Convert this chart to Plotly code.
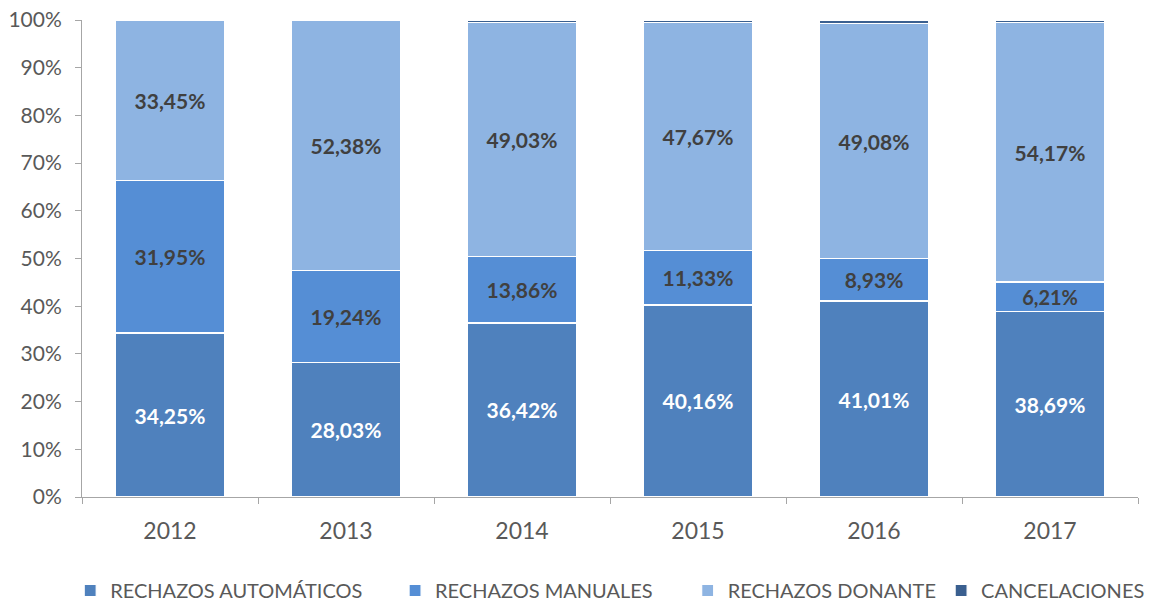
import plotly.graph_objects as go

years = ["2012", "2013", "2014", "2015", "2016", "2017"]
automaticos = [34.25, 28.03, 36.42, 40.16, 41.01, 38.69]
manuales = [31.95, 19.24, 13.86, 11.33, 8.93, 6.21]
donante = [33.45, 52.38, 49.03, 47.67, 49.08, 54.17]
cancelaciones = [0.0, 0.0, 0.5, 0.6, 0.8, 0.5]

series = [
    ("RECHAZOS AUTOMÁTICOS", automaticos, "#4F81BD", "white", True),
    ("RECHAZOS MANUALES", manuales, "#558ED5", "#404040", True),
    ("RECHAZOS DONANTE", donante, "#8EB4E2", "#404040", True),
    ("CANCELACIONES", cancelaciones, "#3A5F8F", "#404040", False),
]
legend_ids = ["legend", "legend2", "legend3", "legend4"]
legend_x = [0.054, 0.336, 0.590, 0.810]

def fmt(v):
    return f"{v:.2f}".replace(".", ",") + "%"

fig = go.Figure()
for (name, vals, color, tcolor, show), lid in zip(series, legend_ids):
    fig.add_trace(go.Bar(
        name=name, x=years, y=vals, legend=lid, showlegend=True,
        marker=dict(color=color, line=dict(color="white", width=1.2)),
        text=[fmt(v) for v in vals] if show else None,
        textposition="inside" if show else "none",
        insidetextanchor="middle",
        textangle=0,
        textfont=dict(family="Lato, Open Sans, sans-serif", size=21, color=tcolor, weight="bold"),
        hoverinfo="skip",
    ))

legend_style = dict(orientation="h", xanchor="left", xref="container", y=-0.196, yanchor="middle",
                    font=dict(size=20, color="#595959"), itemwidth=30)

fig.update_layout(
    showlegend=True,
    barmode="stack", barnorm="percent", bargap=0.375,
    width=1152, height=596,
    margin=dict(l=74, r=22, t=12, b=107, autoexpand=False),
    plot_bgcolor="white", paper_bgcolor="white",
    font=dict(family="Lato, Open Sans, sans-serif", color="#595959"),
    legend=dict(x=legend_x[0], **legend_style),
    legend2=dict(x=legend_x[1], **legend_style),
    legend3=dict(x=legend_x[2], **legend_style),
    legend4=dict(x=legend_x[3], **legend_style),
)
fig.update_xaxes(
    showline=True, linecolor="#A6A6A6", linewidth=1,
    ticks="outside", tickson="boundaries", ticklen=6, tickcolor="#A6A6A6",
    tickfont=dict(size=23, color="#595959"), ticklabelstandoff=13,
    showgrid=False,
)
fig.update_yaxes(
    range=[0, 100], tickvals=list(range(0, 101, 10)),
    ticktext=[f"{v}%" for v in range(0, 101, 10)],
    showline=True, linecolor="#A6A6A6", linewidth=1,
    ticks="outside", ticklen=6, tickcolor="#A6A6A6",
    tickfont=dict(size=21, color="#595959"), ticklabelstandoff=9,
    ticklabeloverflow="allow",
    showgrid=False, zeroline=False,
)

fig.write_html("out.html")
